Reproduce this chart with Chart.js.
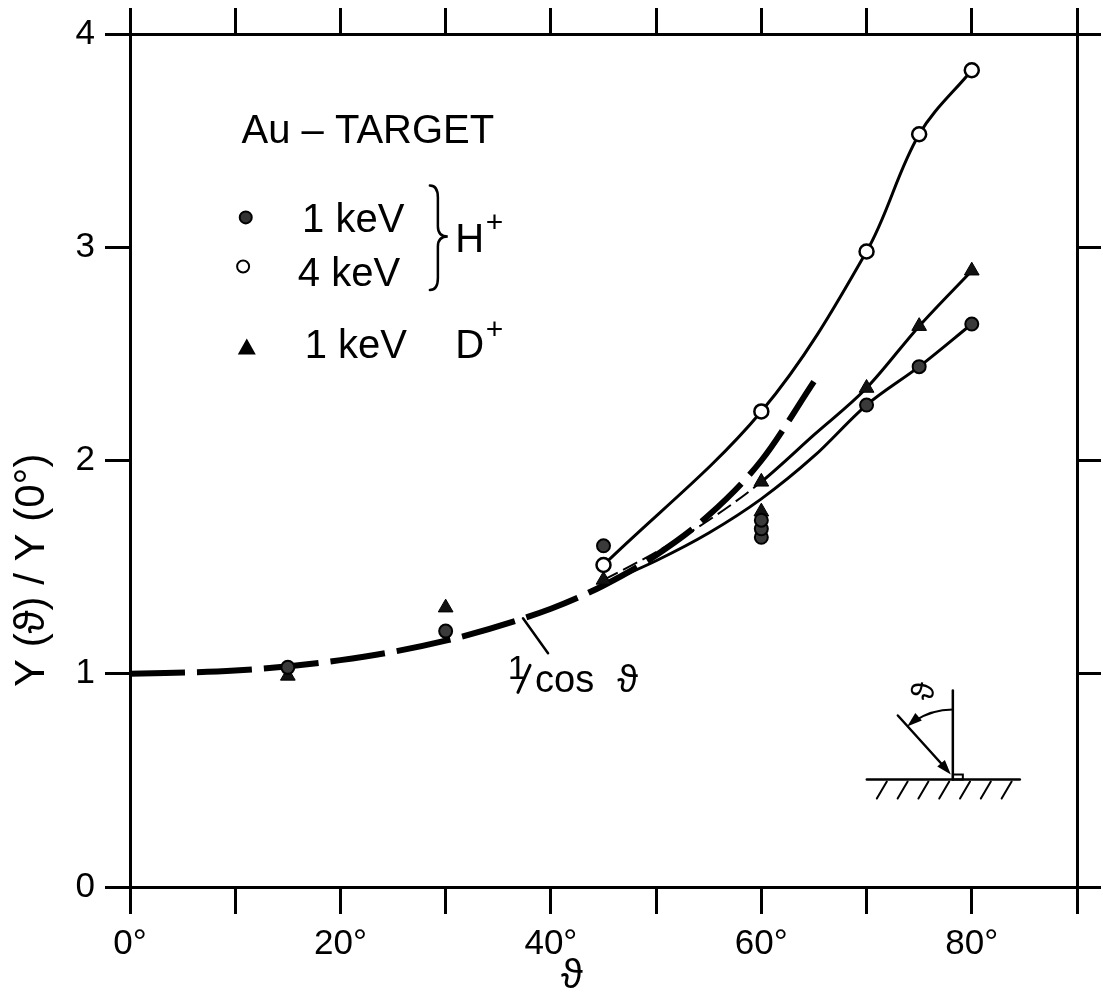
<!DOCTYPE html>
<html lang="en">
<head>
  <meta charset="UTF-8">
  <title>Au target - Y(theta)/Y(0)</title>
  <script src="https://cdn.jsdelivr.net/npm/chart.js"></script>
  <style>
    html, body { margin: 0; padding: 0; background: #fff; }
  </style>
</head>
<body>
  <canvas id="yieldChart" width="1103" height="994"></canvas>

  <script>
    // measured points, angle in degrees, yield relative to normal incidence
    const h1Angles = [15, 30, 45, 60, 60, 60, 70, 75, 80];
    const h1Yield  = [1.03, 1.20, 1.60, 1.64, 1.68, 1.72, 2.26, 2.44, 2.64];
    const h4Angles = [45, 60, 70, 75, 80];
    const h4Yield  = [1.51, 2.23, 2.98, 3.53, 3.83];
    const d1Angles = [15, 30, 45, 60, 60, 70, 75, 80];
    const d1Yield  = [0.99, 1.31, 1.44, 1.90, 1.76, 2.34, 2.63, 2.89];

    // hand drawn guide curves
    const h1CurveAngles = [45, 50, 55, 60, 65, 70, 75, 80];
    const h1CurveYield  = [1.42, 1.53, 1.66, 1.82, 2.02, 2.26, 2.44, 2.64];
    const d1CurveAngles = [45, 50, 55, 60, 65, 70, 75, 80];
    const d1CurveYield  = [1.44, 1.57, 1.72, 1.90, 2.12, 2.34, 2.63, 2.89];
    const cosAngles = [0, 10, 20, 30, 40, 45, 50, 55, 60, 65];
    const cosYield  = [1.00, 1.015, 1.064, 1.155, 1.305, 1.414, 1.556, 1.743, 2.00, 2.37];

    const xLabelTicks = [0, 20, 40, 60, 80];
    const yLabelTicks = [0, 1, 2, 3, 4];

    const FONT = '"Liberation Sans", "DejaVu Sans", Arial, sans-serif';
    const pts = (xs, ys) => xs.map((x, i) => ({ x: x, y: ys[i] }));

    // text, legend and the little geometry sketch
    const notes = {
      id: 'notes',
      afterDraw(chart) {
        const ctx = chart.ctx;
        const xs = chart.scales.x, ys = chart.scales.y;
        const X = v => xs.getPixelForValue(v);
        const Y = v => ys.getPixelForValue(v);
        const area = chart.chartArea;

        ctx.save();
        ctx.fillStyle = '#000';
        ctx.strokeStyle = '#000';
        ctx.textAlign = 'left';
        ctx.textBaseline = 'alphabetic';
        ctx.lineCap = 'round';

        const text = (s, a, v, size) => {
          ctx.font = size + 'px ' + FONT;
          ctx.fillText(s, X(a), Y(v));
        };
        const line = (x1, y1, x2, y2, w) => {
          ctx.lineWidth = w || 2.5;
          ctx.beginPath();
          ctx.moveTo(x1, y1);
          ctx.lineTo(x2, y2);
          ctx.stroke();
        };
        const arrowHead = (x, y, dx, dy) => {
          const len = Math.hypot(dx, dy);
          const ux = dx / len, uy = dy / len;
          ctx.beginPath();
          ctx.moveTo(x, y);
          ctx.lineTo(x - ux * 15 - uy * 5, y - uy * 15 + ux * 5);
          ctx.lineTo(x - ux * 15 + uy * 5, y - uy * 15 - ux * 5);
          ctx.closePath();
          ctx.fill();
        };

        // axis titles
        ctx.save();
        ctx.translate(area.left - 98, Y(1.485));
        ctx.rotate(-Math.PI / 2);
        ctx.textAlign = 'center';
        ctx.textBaseline = 'middle';
        ctx.font = '42px ' + FONT;
        ctx.fillText('Y (ϑ) / Y (0°)', 0, 0);
        ctx.restore();

        ctx.save();
        ctx.textAlign = 'center';
        ctx.textBaseline = 'middle';
        ctx.font = '40px ' + FONT;
        ctx.fillText('ϑ', X(42), area.bottom + 90);
        ctx.restore();

        // legend
        text('Au – TARGET', 10.6, 3.49, 40);

        ctx.lineWidth = 2;
        ctx.fillStyle = '#333';
        ctx.beginPath();
        ctx.arc(X(11.0), Y(3.14), 6, 0, Math.PI * 2);
        ctx.fill();
        ctx.stroke();
        ctx.fillStyle = '#000';
        text('1 keV', 16.35, 3.07, 40);

        ctx.fillStyle = '#fff';
        ctx.beginPath();
        ctx.arc(X(10.75), Y(2.91), 6, 0, Math.PI * 2);
        ctx.fill();
        ctx.stroke();
        ctx.fillStyle = '#000';
        text('4 keV', 15.95, 2.82, 40);

        // brace joining the two H+ rows
        const bx0 = X(28.5), bx1 = X(30.2);
        const byT = Y(3.29), byM = Y(3.05), byB = Y(2.80);
        ctx.lineWidth = 2.5;
        ctx.beginPath();
        ctx.moveTo(bx0, byT);
        ctx.quadraticCurveTo(bx0 + 8, byT, bx0 + 8, byT + 12);
        ctx.lineTo(bx0 + 8, byM - 10);
        ctx.quadraticCurveTo(bx0 + 8, byM, bx1, byM);
        ctx.quadraticCurveTo(bx0 + 8, byM, bx0 + 8, byM + 10);
        ctx.lineTo(bx0 + 8, byB - 12);
        ctx.quadraticCurveTo(bx0 + 8, byB, bx0, byB);
        ctx.stroke();
        text('H', 30.9, 2.98, 40);
        text('+', 33.8, 3.07, 30);

        const tx = X(11.1), ty = Y(2.53);
        ctx.beginPath();
        ctx.moveTo(tx, ty - 9);
        ctx.lineTo(tx + 9, ty + 7);
        ctx.lineTo(tx - 9, ty + 7);
        ctx.closePath();
        ctx.fill();
        text('1 keV', 16.6, 2.48, 40);
        text('D', 30.9, 2.48, 40);
        text('+', 33.8, 2.57, 30);

        // 1/cos label with leader
        line(X(37.35), Y(1.26), X(39.73), Y(1.096), 2.5);
        text('1', 35.9, 0.975, 34);
        line(X(36.87), Y(0.913), X(38.02), Y(1.039), 3);
        text('cos', 38.5, 0.913, 38);
        text('ϑ', 46.3, 0.913, 38);

        // sketch: surface, normal and incident beam
        const ix = X(78.2), iy = Y(0.504);
        line(ix - 86, iy, ix + 67, iy, 2.5);
        for (let k = 0; k < 7; k++) {
          const hx = ix - 66 + k * 20.8;
          line(hx, iy + 2, hx - 10, iy + 19, 2);
        }
        line(ix, iy, ix, iy - 89, 2.5);
        ctx.lineWidth = 2;
        ctx.strokeRect(ix, iy - 5, 10, 5);
        line(ix - 55, iy - 64, ix - 8, iy - 12, 2.5);
        arrowHead(ix - 2, iy - 5, 55, 64);

        const r = 70, a1 = -Math.PI / 2, a2 = -130.7 * Math.PI / 180;
        ctx.lineWidth = 2;
        ctx.beginPath();
        ctx.arc(ix, iy, r, a1, a2 + 0.12, true);
        ctx.stroke();
        arrowHead(ix + r * Math.cos(a2), iy + r * Math.sin(a2), Math.sin(a2), -Math.cos(a2));

        ctx.save();
        ctx.translate(ix - 28, iy - 88);
        ctx.rotate(-Math.PI / 2 * 0.9);
        ctx.textAlign = 'center';
        ctx.textBaseline = 'middle';
        ctx.font = '32px ' + FONT;
        ctx.fillText('ϑ', 0, 0);
        ctx.restore();

        ctx.restore();
      }
    };

    const frameGrid = len => ({
      drawOnChartArea: false,
      drawTicks: true,
      tickLength: len,
      tickWidth: 3,
      lineWidth: 3,
      color: '#000',
      tickColor: '#000'
    });
    const frameBorder = { display: true, width: 3, color: '#000' };

    const ctx = document.getElementById('yieldChart').getContext('2d');
    const yieldChart = new Chart(ctx, {
      type: 'scatter',
      data: {
        datasets: [
          {
            label: '1 keV H+',
            data: pts(h1Angles, h1Yield),
            pointStyle: 'circle',
            pointRadius: 6.5,
            pointBackgroundColor: '#3a3a3a',
            pointBorderColor: '#000',
            pointBorderWidth: 2,
            order: 0
          },
          {
            label: '4 keV H+',
            data: pts(h4Angles, h4Yield),
            pointStyle: 'circle',
            pointRadius: 7,
            pointBackgroundColor: '#fff',
            pointBorderColor: '#000',
            pointBorderWidth: 2.5,
            order: 0
          },
          {
            label: '1 keV D+',
            data: pts(d1Angles, d1Yield),
            pointStyle: 'triangle',
            pointRadius: 8.5,
            pointBackgroundColor: '#111',
            pointBorderColor: '#000',
            pointBorderWidth: 1,
            order: 0
          },
          {
            label: '4 keV H+ curve',
            data: pts(h4Angles, h4Yield),
            showLine: true,
            pointRadius: 0,
            borderColor: '#000',
            borderWidth: 3,
            tension: 0.35,
            order: 1
          },
          {
            label: '1 keV D+ curve',
            data: pts(d1CurveAngles, d1CurveYield),
            showLine: true,
            pointRadius: 0,
            borderColor: '#000',
            borderWidth: 3,
            cubicInterpolationMode: 'monotone',
            segment: {
              borderDash: c => c.p1.parsed.x <= 60 ? [16, 6] : undefined,
              borderWidth: c => c.p1.parsed.x <= 60 ? 2 : undefined
            },
            order: 1
          },
          {
            label: '1 keV H+ curve',
            data: pts(h1CurveAngles, h1CurveYield),
            showLine: true,
            pointRadius: 0,
            borderColor: '#000',
            borderWidth: 3,
            cubicInterpolationMode: 'monotone',
            order: 1
          },
          {
            label: '1/cos',
            data: pts(cosAngles, cosYield),
            showLine: true,
            pointRadius: 0,
            borderColor: '#000',
            borderWidth: 6,
            borderDash: [55, 12],
            borderCapStyle: 'butt',
            cubicInterpolationMode: 'monotone',
            order: 1
          }
        ]
      },
      options: {
        responsive: false,
        animation: false,
        layout: { padding: 0 },
        plugins: {
          legend: { display: false },
          tooltip: { enabled: false }
        },
        scales: {
          x: {
            type: 'linear',
            position: 'bottom',
            min: 0,
            max: 90,
            ticks: {
              stepSize: 10,
              autoSkip: false,
              maxRotation: 0,
              padding: 9,
              color: '#000',
              font: { family: FONT, size: 35 },
              callback: v => xLabelTicks.includes(v) ? v + '°' : ''
            },
            grid: frameGrid(27),
            border: frameBorder,
            afterFit: s => { s.height = 107; }
          },
          x2: {
            type: 'linear',
            position: 'top',
            min: 0,
            max: 90,
            ticks: { stepSize: 10, display: false },
            grid: frameGrid(26),
            border: frameBorder,
            afterFit: s => { s.height = 34; }
          },
          y: {
            type: 'linear',
            position: 'left',
            min: 0,
            max: 4,
            ticks: {
              stepSize: 1,
              padding: 10,
              color: '#000',
              font: { family: FONT, size: 35 },
              callback: v => yLabelTicks.includes(v) ? String(v) : ''
            },
            grid: frameGrid(25),
            border: frameBorder,
            afterFit: s => { s.width = 130; }
          },
          y2: {
            type: 'linear',
            position: 'right',
            min: 0,
            max: 4,
            ticks: { stepSize: 1, display: false },
            grid: frameGrid(24),
            border: frameBorder,
            afterFit: s => { s.width = 26; }
          }
        }
      },
      plugins: [notes]
    });
  </script>
</body>
</html>
